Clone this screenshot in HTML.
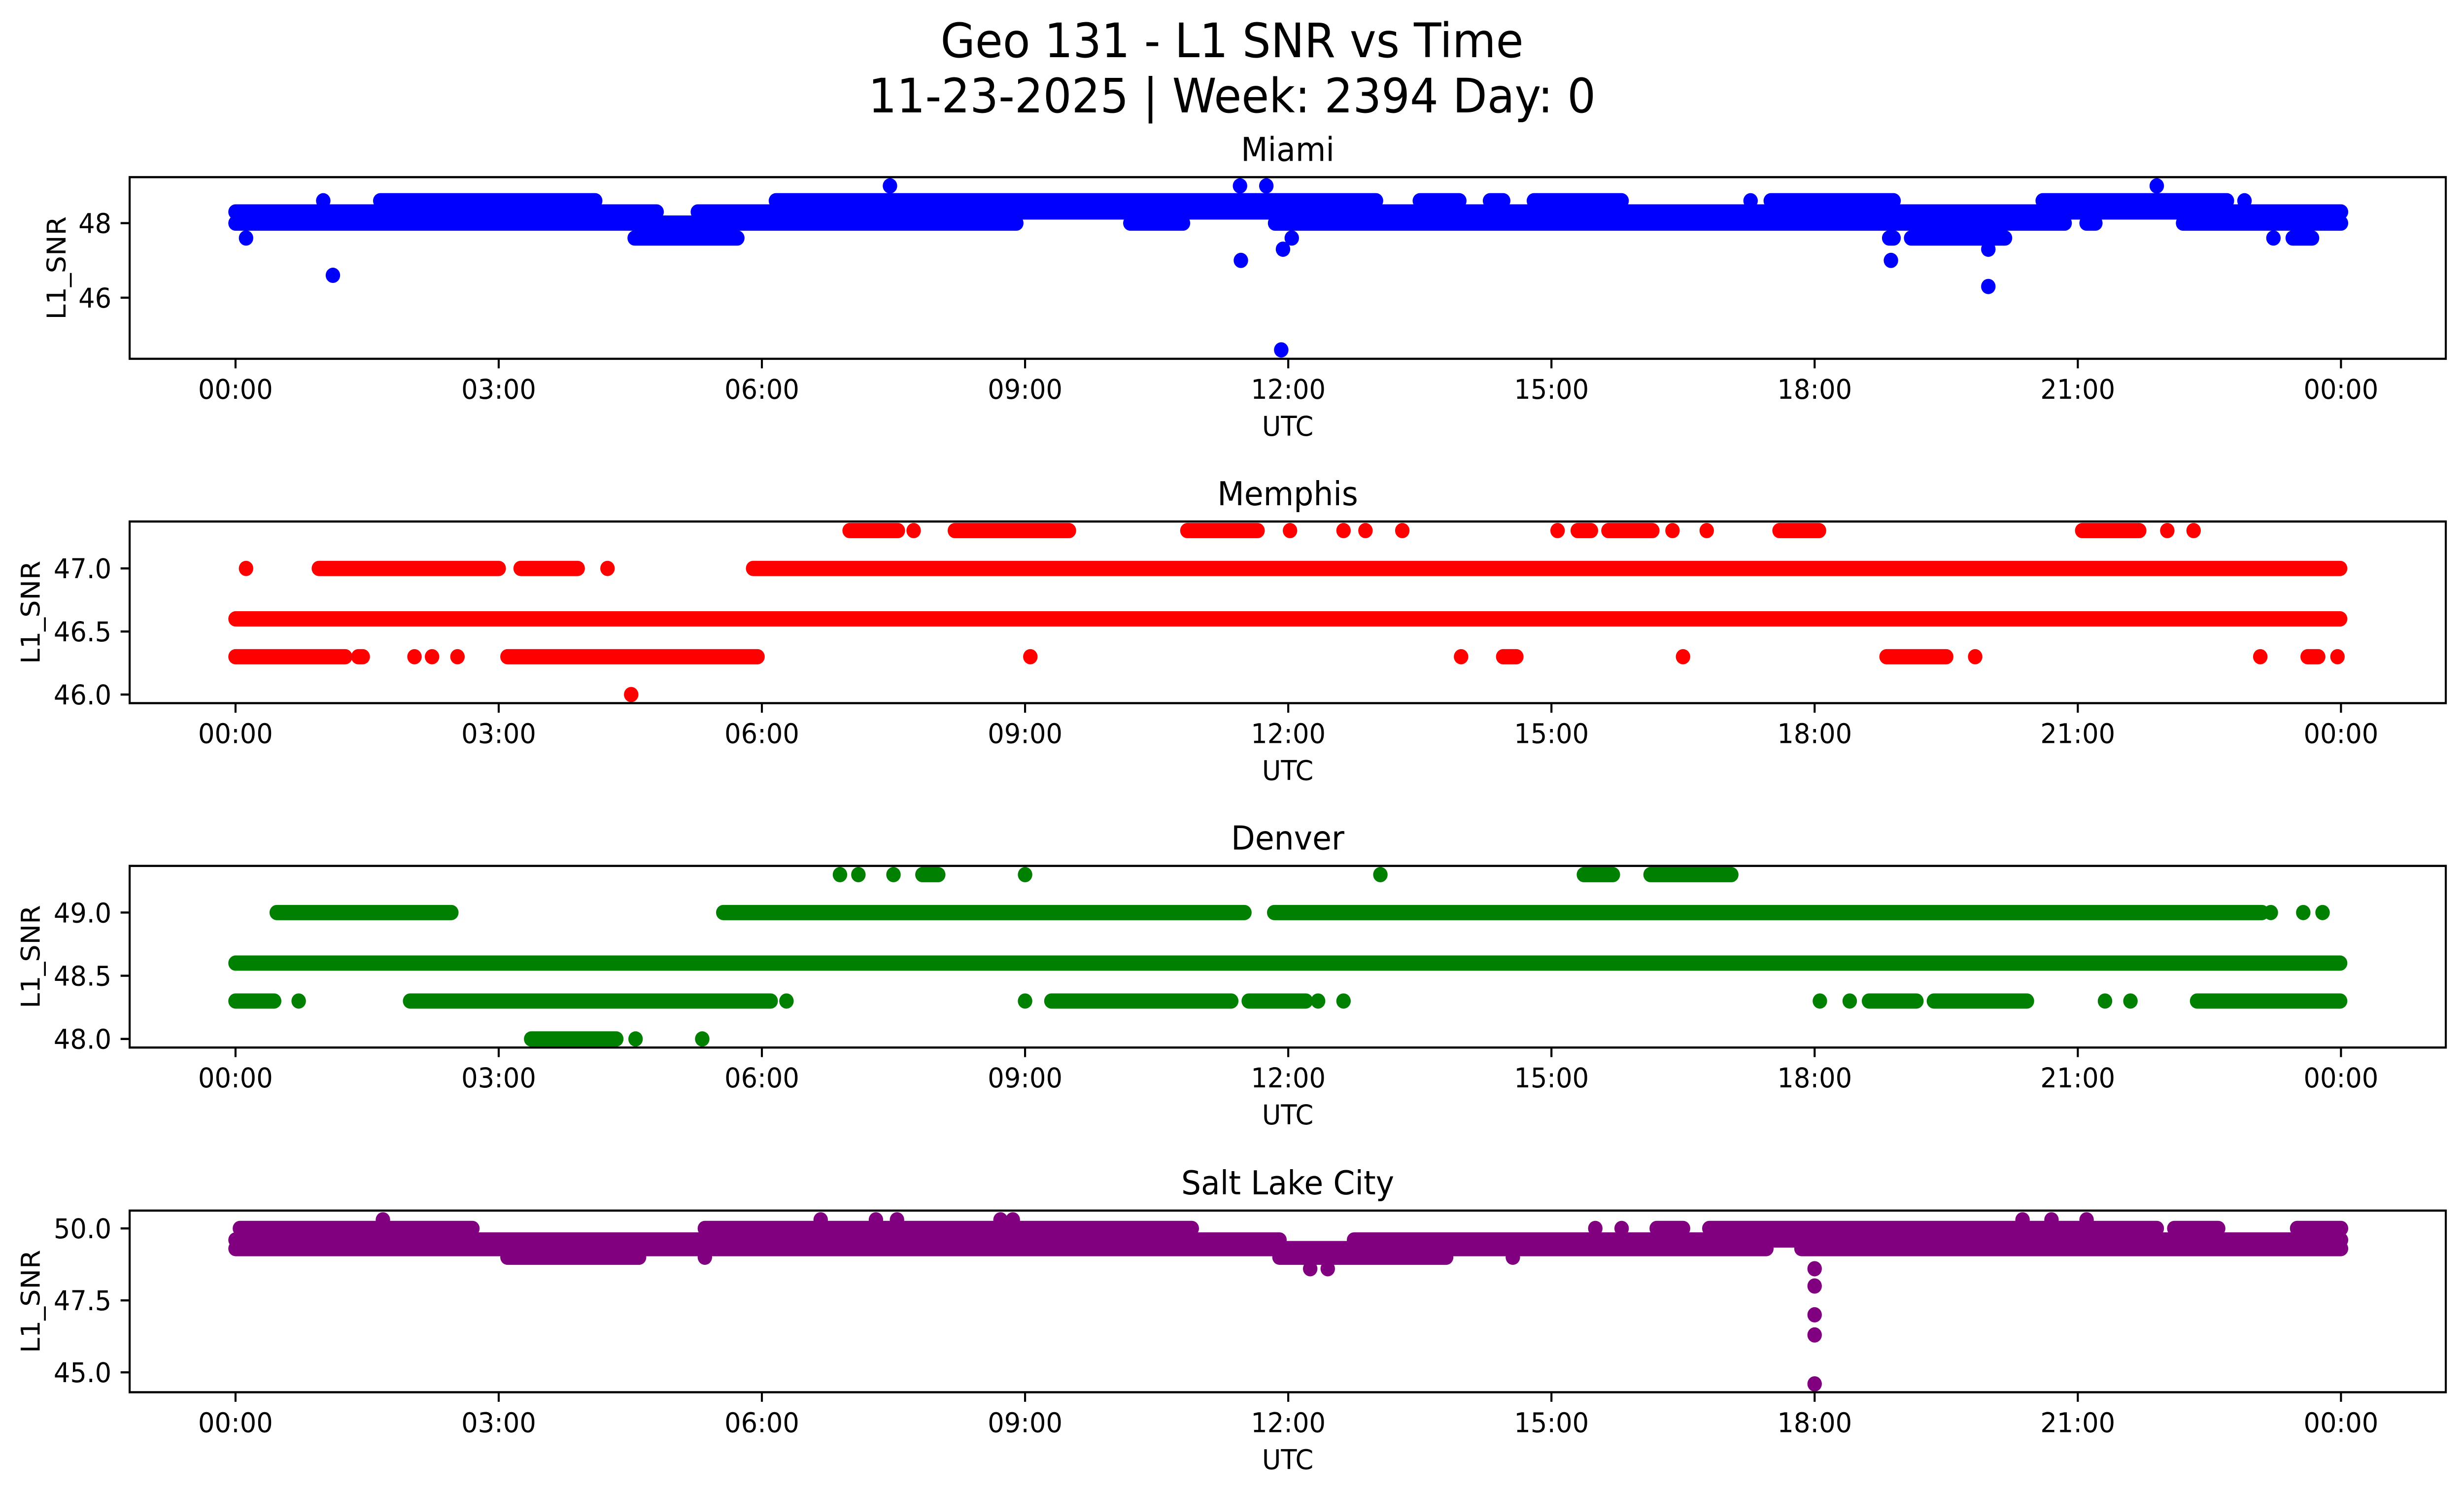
<!DOCTYPE html>
<html><head><meta charset="utf-8">
<style>
html,body{margin:0;padding:0;background:#fff;width:100%;height:100%;overflow:hidden;}
svg{display:block;width:100vw;height:100vh;font-family:"DejaVu Sans","Liberation Sans",sans-serif;}
</style></head>
<body>
<svg id="fig" xmlns="http://www.w3.org/2000/svg" viewBox="0 0 5278 3033" preserveAspectRatio="none">
<rect x="0" y="0" width="5278" height="3033" fill="#fff"/>
<text x="2639" y="116" font-size="96" text-anchor="middle">Geo 131 - L1 SNR vs Time</text>
<text x="2639" y="228" font-size="96" text-anchor="middle">11-23-2025 | Week: 2394 Day: 0</text>
<g id="plots"></g>
</svg>
<script>
// x tick data (hours) and labels
const xTickHours = [0,3,6,9,12,15,18,21,24];
const xTickLabels = ["00:00","03:00","06:00","09:00","12:00","15:00","18:00","21:00","00:00"];

// Station names
const stations = ["Miami","Memphis","Denver","Salt Lake City"];
const colors = ["#0000ff","#ff0000","#008000","#800080"];

// Y tick values per panel
const yTicksMiami = [46,48];
const yTicksMemphis = [46.0,46.5,47.0];
const yTicksDenver = [48.0,48.5,49.0];
const yTicksSLC = [45.0,47.5,50.0];
const yTickLabelsMiami = ["46","48"];
const yTickLabelsMemphis = ["46.0","46.5","47.0"];
const yTickLabelsDenver = ["48.0","48.5","49.0"];
const yTickLabelsSLC = ["45.0","47.5","50.0"];

// Y limits per panel [min,max]
const yLimMiami = [44.361,49.233];
const yLimMemphis = [45.932,47.372];
const yLimDenver = [47.932,49.369];
const yLimSLC = [44.31,50.62];

// Observation runs: [SNR value, start hour, end hour] (dense consecutive samples)
const miamiRuns = [
 [49.0,7.46,7.46],[49.0,11.45,11.45],[49.0,11.75,11.75],[49.0,21.9,21.9],
 [48.6,1.0,1.0],[48.6,1.65,4.1],[48.6,6.16,13.0],[48.6,13.5,13.95],[48.6,14.3,14.45],[48.6,14.8,15.8],[48.6,17.27,17.27],[48.6,17.5,18.9],[48.6,20.6,22.7],[48.6,22.9,22.9],
 [48.3,0,4.8],[48.3,5.27,24],
 [48.0,0,8.9],[48.0,10.2,10.8],[48.0,11.85,20.85],[48.0,21.1,21.2],[48.0,22.2,24],
 [47.6,0.12,0.12],[47.6,4.55,5.72],[47.6,12.04,12.04],[47.6,18.85,18.9],[47.6,19.1,20.17],[47.6,23.23,23.23],[47.6,23.45,23.67],
 [47.3,11.94,11.94],[47.3,19.98,19.98],
 [47.0,11.46,11.46],[47.0,18.87,18.87],
 [46.6,1.11,1.11],[46.3,19.98,19.98],[44.6,11.92,11.92]
];
const memphisRuns = [
 [47.3,7.0,7.55],[47.3,7.73,7.73],[47.3,8.2,9.5],[47.3,10.85,11.65],[47.3,12.02,12.02],[47.3,12.63,12.63],[47.3,12.88,12.88],[47.3,13.3,13.3],[47.3,15.07,15.07],[47.3,15.3,15.45],[47.3,15.65,16.15],[47.3,16.38,16.38],[47.3,16.77,16.77],[47.3,17.6,18.05],[47.3,21.05,21.7],[47.3,22.02,22.02],[47.3,22.32,22.32],
 [47.0,0.12,0.12],[47.0,0.95,3.0],[47.0,3.25,3.9],[47.0,4.24,4.24],[47.0,5.9,23.99],
 [46.6,0,23.99],
 [46.3,0,1.25],[46.3,1.4,1.45],[46.3,2.04,2.04],[46.3,2.24,2.24],[46.3,2.53,2.53],[46.3,3.1,5.95],[46.3,9.06,9.06],[46.3,13.97,13.97],[46.3,14.45,14.6],[46.3,16.5,16.5],[46.3,18.82,19.5],[46.3,19.83,19.83],[46.3,23.08,23.08],[46.3,23.62,23.74],[46.3,23.96,23.96],
 [46.0,4.51,4.51]
];
const denverRuns = [
 [49.3,6.89,6.89],[49.3,7.1,7.1],[49.3,7.5,7.5],[49.3,7.83,8.01],[49.3,9.0,9.0],[49.3,13.05,13.05],[49.3,15.37,15.7],[49.3,16.13,17.05],
 [49.0,0.47,2.46],[49.0,5.56,11.5],[49.0,11.84,23.1],[49.0,23.2,23.2],[49.0,23.57,23.57],[49.0,23.79,23.79],
 [48.6,0,23.99],
 [48.3,0,0.44],[48.3,0.72,0.72],[48.3,1.99,6.1],[48.3,6.28,6.28],[48.3,9.0,9.0],[48.3,9.3,11.35],[48.3,11.55,12.2],[48.3,12.34,12.34],[48.3,12.63,12.63],[48.3,18.06,18.06],[48.3,18.4,18.4],[48.3,18.62,19.16],[48.3,19.36,20.42],[48.3,21.31,21.31],[48.3,21.6,21.6],[48.3,22.36,23.99],
 [48.0,3.37,4.34],[48.0,4.56,4.56],[48.0,5.32,5.32]
];
const slcRuns = [
 [50.3,1.68,1.68],[50.3,6.67,6.67],[50.3,7.3,7.3],[50.3,7.54,7.54],[50.3,8.72,8.72],[50.3,8.86,8.86],[50.3,20.37,20.37],[50.3,20.7,20.7],[50.3,21.1,21.1],
 [50.0,0.05,2.7],[50.0,5.35,10.9],[50.0,15.5,15.5],[50.0,15.8,15.8],[50.0,16.2,16.5],[50.0,16.8,21.9],[50.0,22.1,22.6],[50.0,23.5,24],
 [49.6,0,11.9],[49.6,12.75,24],
 [49.3,0,17.45],[49.3,17.85,24],
 [49.0,3.1,4.6],[49.0,5.35,5.35],[49.0,11.9,13.8],[49.0,14.56,14.56],
 [48.6,12.25,12.25],[48.6,12.45,12.45],
 [48.6,18.0,18.0],[48.0,18.0,18.0],[47.0,18.0,18.0],[46.3,18.0,18.0],[44.6,18.0,18.0]
];

const panelRuns = [miamiRuns,memphisRuns,denverRuns,slcRuns];
const panelYLims = [yLimMiami,yLimMemphis,yLimDenver,yLimSLC];
const panelYTicks = [yTicksMiami,yTicksMemphis,yTicksDenver,yTicksSLC];
const panelYTickLabels = [yTickLabelsMiami,yTickLabelsMemphis,yTickLabelsDenver,yTickLabelsSLC];

// Layout
const NS = "http://www.w3.org/2000/svg";
const axLeft = 277.7, axRight = 5239;
const x0 = 504.5, x24 = 5014.5;
const panelTops = [359.4,1058,1756.7,2456];
const panelH = 368.5;
const ylabelX = [140.6,84.8,84.8,84.8];
const R = 15.5;
function xScale(h){ return x0 + h*(x24-x0)/24; }
function makeY(lim, top){ return v => top + (lim[1]-v)/(lim[1]-lim[0])*panelH; }
function mk(tag, attrs){ const e=document.createElementNS(NS,tag); for(const k in attrs) e.setAttribute(k,attrs[k]); return e; }

const root = document.getElementById('plots');
for(let p=0;p<4;p++){
  const top = panelTops[p], bot = top+panelH;
  const yS = makeY(panelYLims[p], top);
  const g = mk('g',{});
  
  
  root.appendChild(g);
  const cp = mk('clipPath',{id:'clip'+p});
  cp.appendChild(mk('rect',{x:axLeft,y:top,width:axRight-axLeft,height:panelH}));
  g.appendChild(cp);
  const marks = mk('g',{'clip-path':'url(#clip'+p+')',fill:colors[p],stroke:colors[p]});
  
  
  g.appendChild(marks);
  panelRuns[p].forEach(r=>{
    const y=yS(r[0]), xa=xScale(r[1]), xb=xScale(r[2]);
    let el;
    if(xb-xa<1){
      el = mk('circle',{cx:xa,cy:y,r:R,stroke:'none'});
    } else {
      el = mk('line',{x1:xa,y1:y,x2:xb,y2:y,'stroke-width':2*R,'stroke-linecap':'round'});
    }
    
    
    marks.appendChild(el);
  });
  const frame = mk('rect',{x:axLeft,y:top,width:axRight-axLeft,height:panelH,fill:'none',stroke:'#000','stroke-width':4.4});
  
  
  g.appendChild(frame);
  xTickHours.forEach((h,i)=>{
    const x=xScale(h);
    const t=mk('line',{x1:x,y1:bot,x2:x,y2:bot+19.4,stroke:'#000','stroke-width':4.4});
    
    
    g.appendChild(t);
    const l=mk('text',{x:x,y:bot+81,'font-size':55.6,'text-anchor':'middle'});
    l.textContent=xTickLabels[i];
    
    
    g.appendChild(l);
  });
  panelYTicks[p].forEach((v,i)=>{
    const y=yS(v);
    const t=mk('line',{x1:axLeft-19.4,y1:y,x2:axLeft,y2:y,stroke:'#000','stroke-width':4.4});
    
    
    g.appendChild(t);
    const l=mk('text',{x:axLeft-39,y:y+20,'font-size':55.6,'text-anchor':'end'});
    l.textContent=panelYTickLabels[p][i];
    
    
    g.appendChild(l);
  });
  const xl=mk('text',{x:(axLeft+axRight)/2,y:bot+156,'font-size':55.6,'text-anchor':'middle'});
  xl.textContent='UTC';
  
  
  g.appendChild(xl);
  const cy=top+panelH/2;
  const yl=mk('text',{x:ylabelX[p],y:cy,'font-size':55.6,'text-anchor':'middle',transform:'rotate(-90 '+ylabelX[p]+' '+cy+')'});
  yl.textContent='L1_SNR';
  
  
  g.appendChild(yl);
  const ti=mk('text',{x:(axLeft+axRight)/2,y:top-33,'font-size':66.7,'text-anchor':'middle'});
  ti.textContent=stations[p];
  
  
  g.appendChild(ti);
}
</script>
</body></html>
